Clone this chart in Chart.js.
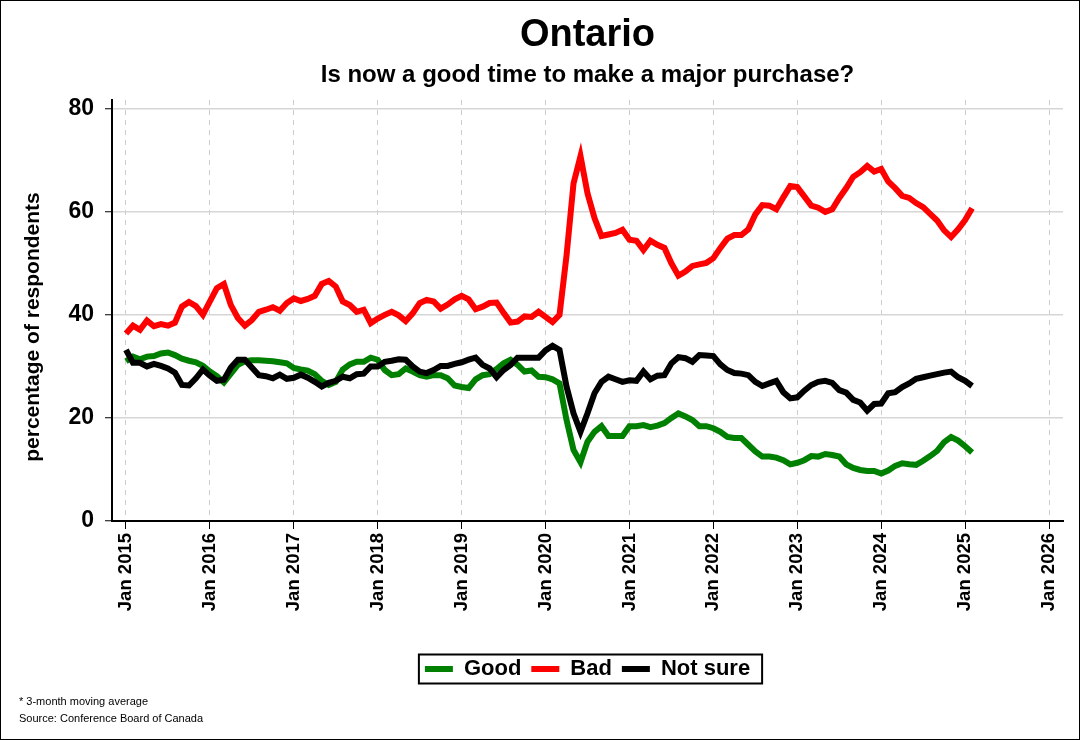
<!DOCTYPE html>
<html>
<head>
<meta charset="utf-8">
<title>Ontario - major purchase</title>
<script src="https://cdn.jsdelivr.net/npm/chart.js@4.4.1/dist/chart.umd.min.js"></script>
<style>
  body { margin: 0; background: #fff; }
  #wrap { position: relative; width: 1080px; height: 740px; }
  .note { position: absolute; left: 19px; font: 11px "Liberation Sans", Arial, sans-serif; color: #000; white-space: nowrap; }
</style>
</head>
<body>
<div id="wrap">
  <canvas id="chart" width="1080" height="740"></canvas>
  <div class="note" style="top:695px">* 3-month moving average</div>
  <div class="note" style="top:712px">Source: Conference Board of Canada</div>
</div>
<script>
// monthly values, Jan 2015 .. Feb 2025 (3-month moving average)
const tickLabels = ['Jan 2015', 'Jan 2016', 'Jan 2017', 'Jan 2018', 'Jan 2019', 'Jan 2020',
                    'Jan 2021', 'Jan 2022', 'Jan 2023', 'Jan 2024', 'Jan 2025', 'Jan 2026'];
const yTicks = [0, 20, 40, 60, 80];
const seriesNames = ['Good', 'Bad', 'Not sure'];

const good = [
  31.0, 31.9, 31.4, 31.9, 32.0, 32.5, 32.7, 32.2, 31.5, 31.1, 30.8, 30.1,
  29.0, 28.1, 26.9, 28.6, 30.3, 31.0, 31.2, 31.2, 31.1, 31.0, 30.8, 30.6,
  29.7, 29.4, 29.2, 28.5, 27.2, 26.4, 27.0, 29.4, 30.4, 30.9, 30.9, 31.7,
  31.3, 29.3, 28.3, 28.5, 29.6, 29.0, 28.3, 28.0, 28.3, 28.3, 27.7, 26.3,
  26.0, 25.8, 27.5, 28.3, 28.5, 29.5, 30.6, 31.3, 30.3, 29.0, 29.2, 28.0,
  27.9, 27.5, 26.7, 19.6, 13.8, 11.4, 15.4, 17.3, 18.4, 16.5, 16.5, 16.5,
  18.4, 18.4, 18.6, 18.2, 18.5, 19.0, 20.0, 20.9, 20.3, 19.6, 18.4, 18.4,
  18.0, 17.3, 16.3, 16.1, 16.1, 14.8, 13.5, 12.5, 12.5, 12.3, 11.8, 11.0,
  11.3, 11.8, 12.6, 12.5, 13.0, 12.8, 12.5, 11.0, 10.3, 9.9, 9.7, 9.7,
  9.2, 9.8, 10.7, 11.2, 11.0, 10.9, 11.7, 12.6, 13.6, 15.3, 16.3, 15.6,
  14.5, 13.3
];

const bad = [
  36.4, 37.9, 37.1, 38.9, 37.8, 38.2, 37.9, 38.5, 41.6, 42.5, 41.7, 40.0,
  42.6, 45.2, 46.0, 41.9, 39.4, 37.9, 39.0, 40.6, 41.0, 41.5, 40.8, 42.3,
  43.2, 42.7, 43.1, 43.7, 46.0, 46.6, 45.5, 42.6, 41.9, 40.6, 41.0, 38.4,
  39.3, 40.0, 40.6, 39.9, 38.8, 40.3, 42.3, 42.9, 42.6, 41.2, 42.0, 43.0,
  43.7, 43.0, 41.1, 41.6, 42.3, 42.4, 40.4, 38.5, 38.7, 39.7, 39.6, 40.6,
  39.6, 38.6, 40.0, 51.5, 65.5, 70.8, 63.6, 58.8, 55.3, 55.6, 55.9, 56.5,
  54.6, 54.4, 52.6, 54.4, 53.6, 53.0, 50.0, 47.6, 48.4, 49.5, 49.8, 50.1,
  51.0, 53.0, 54.8, 55.5, 55.5, 56.6, 59.5, 61.3, 61.2, 60.5, 62.8, 65.0,
  64.8, 63.0, 61.2, 60.8, 60.0, 60.5, 62.7, 64.6, 66.8, 67.7, 68.9, 67.8,
  68.3, 65.9, 64.6, 63.1, 62.7, 61.7, 60.9, 59.6, 58.3, 56.4, 55.1, 56.6,
  58.4, 60.7
];

const notSure = [
  33.2, 30.7, 30.7, 30.0, 30.5, 30.1, 29.6, 28.8, 26.4, 26.3, 27.7, 29.4,
  28.2, 27.2, 27.4, 29.8, 31.3, 31.3, 29.8, 28.3, 28.1, 27.7, 28.4, 27.6,
  27.8, 28.4, 27.8, 27.0, 26.1, 26.8, 27.2, 28.0, 27.7, 28.5, 28.6, 30.0,
  30.0, 30.9, 31.1, 31.4, 31.3, 30.0, 29.0, 28.7, 29.3, 30.1, 30.1, 30.5,
  30.8, 31.3, 31.7, 30.3, 29.6, 27.9, 29.3, 30.3, 31.7, 31.7, 31.7, 31.7,
  33.1, 34.0, 33.2, 26.1, 20.9, 17.3, 20.9, 24.8, 27.0, 28.0, 27.5, 27.0,
  27.3, 27.2, 29.0, 27.5, 28.2, 28.3, 30.6, 31.8, 31.6, 30.9, 32.2, 32.1,
  32.0, 30.4, 29.3, 28.7, 28.6, 28.3, 27.0, 26.2, 26.7, 27.2, 25.0, 23.8,
  24.0, 25.3, 26.4, 27.0, 27.2, 26.8, 25.4, 24.9, 23.5, 23.0, 21.4, 22.7,
  22.8, 24.8, 25.0, 26.0, 26.7, 27.6, 27.9, 28.2, 28.5, 28.8, 29.0, 27.9,
  27.2, 26.2
];

const FONT = '"Liberation Sans", Arial, Helvetica, sans-serif';
Chart.defaults.font.family = FONT;
Chart.defaults.color = '#000';

// month index (0 = Jan 2015) as x
const toPoints = arr => arr.map((v, i) => ({ x: i, y: v }));

function lineSet(label, values, color, order) {
    return {
        label: label,
        data: toPoints(values),
        borderColor: color,
        backgroundColor: color,
        borderWidth: 6,
        pointRadius: 0,
        pointHoverRadius: 0,
        tension: 0,
        order: order
    };
}

// frame around the legend and the whole picture, plus the y axis title
const framePlugin = {
    id: 'frame',
    afterDraw(chart) {
        const ctx = chart.ctx;
        const boxes = chart.legend && chart.legend.legendHitBoxes;
        ctx.save();
        ctx.strokeStyle = '#000';
        if (boxes && boxes.length) {
            const first = boxes[0];
            const last = boxes[boxes.length - 1];
            const cy = first.top + first.height / 2;
            ctx.lineWidth = 2;
            ctx.strokeRect(first.left - 6, cy - 14.5, last.left + last.width - first.left + 18, 29);
        }
        ctx.lineWidth = 1;
        ctx.strokeRect(0.5, 0.5, chart.width - 1, chart.height - 1);

        // y axis title, a little below the middle of the plot as in the source
        ctx.translate(33, 327);
        ctx.rotate(-Math.PI / 2);
        ctx.fillStyle = '#000';
        ctx.font = 'bold 21px ' + FONT;
        ctx.textAlign = 'center';
        ctx.textBaseline = 'middle';
        ctx.fillText('percentage of respondents', 0, 0);
        ctx.restore();
    }
};

const ctx = document.getElementById('chart');

new Chart(ctx, {
    type: 'line',
    data: {
        datasets: [
            lineSet(seriesNames[0], good, '#008000', 2),
            lineSet(seriesNames[1], bad, '#ff0000', 1),
            lineSet(seriesNames[2], notSure, '#000000', 0)
        ]
    },
    options: {
        responsive: false,
        animation: false,
        layout: { padding: { left: 0, right: 17, top: 0, bottom: 50 } },
        plugins: {
            title: {
                display: true,
                text: 'Ontario',
                fullSize: false,
                color: '#000',
                font: { size: 38, weight: 'bold' },
                padding: { top: 13, bottom: 0 }
            },
            subtitle: {
                display: true,
                text: 'Is now a good time to make a major purchase?',
                fullSize: false,
                color: '#000',
                font: { size: 24, weight: 'bold' },
                padding: { top: 2, bottom: 10.6 }
            },
            legend: {
                position: 'bottom',
                fullSize: false,
                labels: {
                    boxWidth: 28,
                    boxHeight: 6,
                    padding: 10,
                    color: '#000',
                    font: { size: 22, weight: 'bold' },
                    sort: (a, b) => a.datasetIndex - b.datasetIndex,
                    generateLabels(chart) {
                        const items = Chart.defaults.plugins.legend.labels.generateLabels(chart);
                        items.forEach(it => { it.lineWidth = 0; it.fillStyle = it.strokeStyle; });
                        return items;
                    }
                }
            },
            tooltip: { enabled: false }
        },
        scales: {
            x: {
                type: 'linear',
                min: -2,
                max: 134,
                afterBuildTicks: scale => {
                    scale.ticks = tickLabels.map((_, i) => ({ value: i * 12 }));
                },
                afterFit: scale => { scale.height = 127; },
                ticks: {
                    autoSkip: false,
                    minRotation: 90,
                    maxRotation: 90,
                    padding: 4,
                    color: '#000',
                    font: { size: 18.5, weight: 'bold' },
                    callback: (value, index) => tickLabels[index]
                },
                grid: { color: '#cccccc', lineWidth: 1, tickColor: '#000', tickLength: 8, tickWidth: 1 },
                border: { color: '#000', width: 2, dash: [5, 5] }
            },
            y: {
                min: 0,
                max: 81.7,
                afterBuildTicks: scale => {
                    scale.ticks = yTicks.map(v => ({ value: v }));
                },
                afterFit: scale => { scale.width = 112; },
                ticks: {
                    padding: 11,
                    color: '#000',
                    font: { size: 23, weight: 'bold' }
                },
                grid: { color: '#d6d6d6', lineWidth: 1.5, tickColor: '#000', tickLength: 7, tickWidth: 1 },
                border: { color: '#000', width: 2 }
            }
        }
    },
    plugins: [framePlugin]
});
</script>
</body>
</html>
